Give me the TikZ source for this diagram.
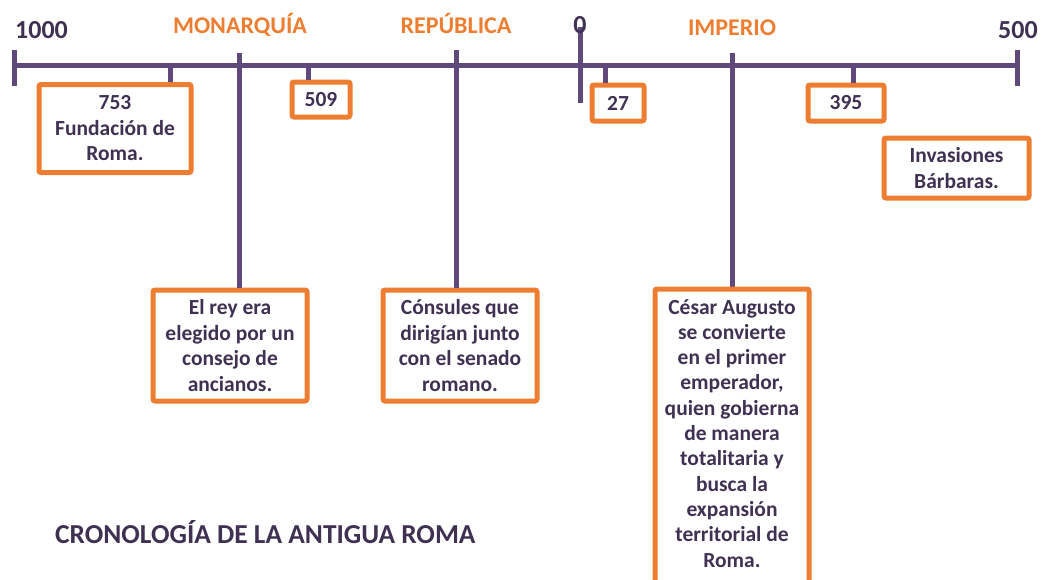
\documentclass[tikz,border=0pt]{standalone}
\usepackage{fontspec}
\setmainfont{Carlito}
\definecolor{axis}{HTML}{5F497A}
\definecolor{ink}{HTML}{403152}
\definecolor{orng}{HTML}{ED7D31}
\begin{document}
\begin{tikzpicture}[x=1pt,y=-1pt,
  axisline/.style={draw=axis, line width=5pt},
  boxline/.style={draw=orng, line width=5pt, rounded corners=2pt},
  box/.style={boxline, fill=white, align=center, inner sep=0pt,
    font=\fontsize{21.5}{25.5}\selectfont\bfseries, text=ink},
  boxtext/.style={align=center, inner sep=0pt,
    font=\fontsize{21.5}{25.3}\selectfont\bfseries, text=ink},
  year/.style={font=\fontsize{26}{30}\selectfont\bfseries, text=ink, anchor=base, inner sep=0pt},
  era/.style={font=\fontsize{24}{28}\selectfont\bfseries, text=orng, anchor=base, inner sep=0pt},
  titlestyle/.style={font=\fontsize{27.4}{30}\selectfont\bfseries, text=ink, anchor=base west, inner sep=0pt}]
\useasboundingbox (0,0) rectangle (1041,579);

% axis
\coordinate (L) at (14,65);
\coordinate (R) at (1017,65);
\draw[axisline] (L) -- (R);
\draw[axisline] (14,50) -- (14,86);
\draw[axisline] (1017,50) -- (1017,86);

% tick coordinates
\coordinate (t753) at (170,65);
\coordinate (tmon) at (239,53);
\coordinate (t509) at (308,65);
\coordinate (trep) at (456,50);
\coordinate (tzeroA) at (580,27);
\coordinate (tzeroB) at (580,103);
\coordinate (t27) at (605,65);
\coordinate (timp) at (732,53);
\coordinate (t395) at (853,65);

% boxes
\node[box, minimum width=152pt, minimum height=88pt] (b753) at (115,128.5) {753\\Fundación de\\Roma.};
\node[box, minimum width=58pt, minimum height=35pt] (b509) at (321,99.5) {509};
\node[box, minimum width=154pt, minimum height=111pt] (brey) at (230,345.5) {El rey era\\elegido por un\\consejo de\\ancianos.};
\node[box, minimum width=154pt, minimum height=111pt] (bcons) at (460,345.5) {Cónsules que\\dirigían junto\\con el senado\\romano.};
\node[box, minimum width=52pt, minimum height=36pt] (b27) at (618,103) {27};
\node[box, minimum width=76pt, minimum height=36pt] (b395) at (846,103) {395};
\node[box, minimum width=145pt, minimum height=60pt] (binv) at (956.5,168) {Invasiones\\Bárbaras.};
\coordinate (cesTL) at (655,289);
\coordinate (cesBR) at (809,640);
\node[boxtext, anchor=north] (bces) at (732,299) {César Augusto\\se convierte\\en el primer\\emperador,\\quien gobierna\\de manera\\totalitaria y\\busca la\\expansión\\territorial de\\Roma.};

% connectors
\draw[axisline] (t753) -- (t753 |- b753.north);
\draw[axisline] (tmon) -- (tmon |- brey.north);
\draw[axisline] (t509) -- (t509 |- b509.north);
\draw[axisline] (trep) -- (trep |- bcons.north);
\draw[axisline] (tzeroA) -- (tzeroB);
\draw[axisline] (t27) -- (t27 |- b27.north);
\draw[axisline] (timp) -- (timp |- cesTL);
\draw[axisline] (t395) -- (t395 |- b395.north);
\draw[boxline] (cesTL) rectangle (cesBR);

% labels
\node[year] (y1000) at (41.5,38) {1000};
\node[year] (y0) at (580,33) {0};
\node[year] (y500) at (1018,38) {500};
\node[era] (emon) at (240,33) {MONARQUÍA};
\node[era] (erep) at (456,33) {REPÚBLICA};
\node[era] (eimp) at (732,35) {IMPERIO};
\node[titlestyle] (title) at (55,543) {CRONOLOGÍA DE LA ANTIGUA ROMA};
\end{tikzpicture}
\end{document}
